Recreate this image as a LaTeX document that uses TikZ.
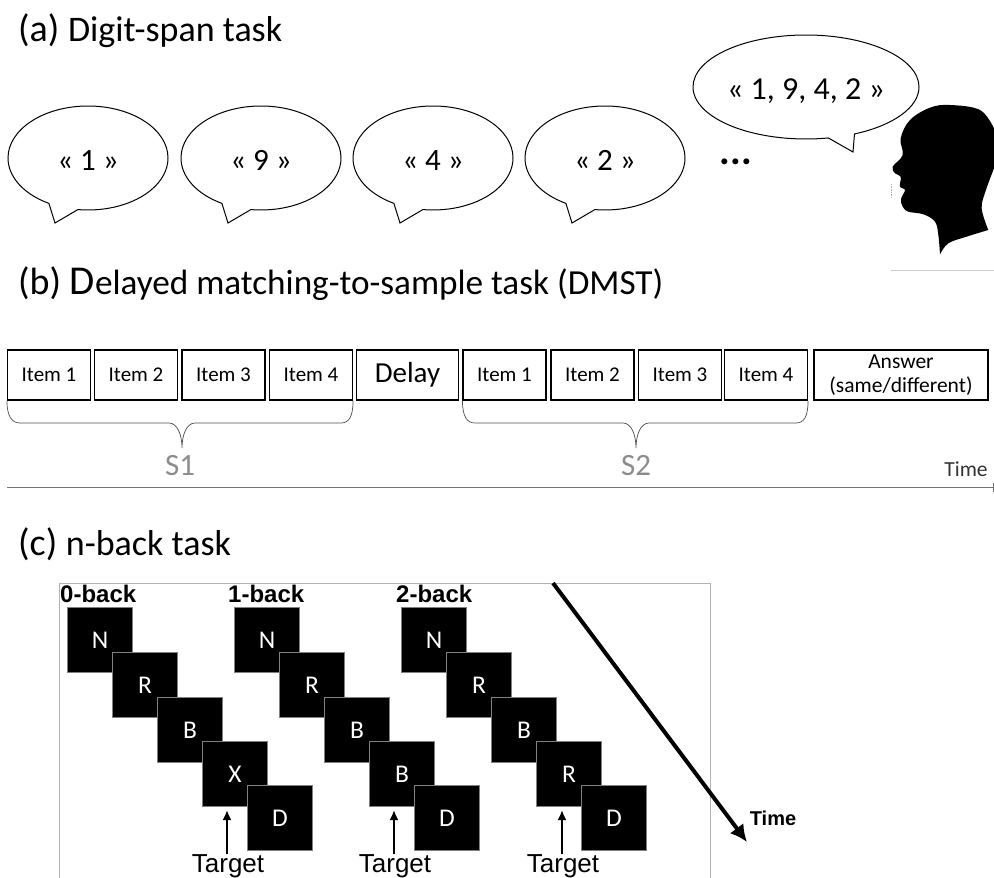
\documentclass[tikz,border=0pt]{standalone}
\usepackage{fontspec}
\setmainfont{Carlito}
\newfontfamily\arialfont{Liberation Sans}
\usetikzlibrary{arrows.meta,shapes.callouts}

\tikzset{
  bubble/.style={ellipse callout,draw,line width=1pt,fill=white,inner sep=0pt,minimum width=160pt,minimum height=104pt,callout pointer arc=22,text height=28pt,text depth=4pt,font=\fontsize{31}{31}\selectfont},
  itembox/.style={draw,line width=1.1pt,minimum width=83pt,minimum height=50pt,inner sep=0pt,font=\fontsize{21}{21}\selectfont},
  letterbox/.style={draw=black!50,line width=1pt,fill=black,text=white,minimum size=65pt,inner sep=0pt,font=\fontsize{25.5}{25.5}\selectfont},
  heading/.style={anchor=base west,inner sep=0pt},
  backlabel/.style={anchor=base west,inner sep=0pt,font=\arialfont\bfseries\fontsize{24}{24}\selectfont},
  targetlabel/.style={anchor=base,inner sep=0pt,font=\arialfont\fontsize{26}{26}\selectfont},
  spanline/.style={line width=.7pt,draw=black!70},
  spanlabel/.style={text=black!45,inner sep=0pt,font=\fontsize{31}{31}\selectfont},
  targetarrow/.style={-{Latex[length=10pt,width=9pt]},line width=2pt}
}

\begin{document}
\begin{tikzpicture}[x=1pt,y=-1pt]
\useasboundingbox (0,0) rectangle (994,878);

\node [heading] (titlea) at (18,41) {\fontsize{38}{38}\selectfont (a) \fontsize{36}{36}\selectfont Digit-span task};

\node [bubble,callout absolute pointer={(55,223)}] (say1) at (88,158) {« 1 »};
\node [bubble,callout absolute pointer={(228,223)}] (say9) at (261,158) {« 9 »};
\node [bubble,callout absolute pointer={(400,223)}] (say4) at (433,158) {« 4 »};
\node [bubble,callout absolute pointer={(572,223)}] (say2) at (605,158) {« 2 »};
\node [font=\bfseries\fontsize{40}{40}\selectfont,inner sep=0pt] (dots) at (736,162) {...};
\node [bubble,minimum width=226pt,callout absolute pointer={(853,152)},callout pointer arc=14,font=\fontsize{32}{32}\selectfont] (sayall) at (806,87) {« 1, 9, 4, 2 »};

\begin{scope}[shift={(880,95)},x=.3333pt,y=-.3333pt]
\fill plot [smooth,tension=.6] coordinates {(180,478) (175,420) (165,380) (130,358) (85,350) (68,335) (63,312) (75,285) (60,275) (62,245) (45,235) (38,215) (68,180) (62,130) (90,75) (150,38) (210,30) (300,45) (342,100)}
  -- plot [smooth,tension=.6] coordinates {(342,220) (318,285) (305,340) (325,405)}
  -- plot [smooth,tension=.6] coordinates {(325,405) (260,425) (205,445) (180,478)} -- cycle;
\end{scope}
\draw [black!20,line width=1pt] (891,270) -- (994,270);
\draw [black!30,line width=.6pt,densely dotted] (891,184) -- (891,197);

\node [heading] (titleb) at (18,294) {\fontsize{38}{38}\selectfont (b) \fontsize{41}{41}\selectfont D\fontsize{35.2}{35.2}\selectfont elayed matching-to-sample task (DMST)};

\node [itembox] (s1a) at (49,375) {Item 1};
\node [itembox] (s1b) at (136,375) {Item 2};
\node [itembox] (s1c) at (223.5,375) {Item 3};
\node [itembox] (s1d) at (311,375) {Item 4};
\node [itembox,minimum width=102pt,font=\fontsize{29}{29}\selectfont] (delay) at (407.5,375) {Delay};
\node [itembox] (s2a) at (504.5,375) {Item 1};
\node [itembox] (s2b) at (592.5,375) {Item 2};
\node [itembox] (s2c) at (680,375) {Item 3};
\node [itembox] (s2d) at (766,375) {Item 4};
\node [itembox,minimum width=174pt,align=center,font=\fontsize{21.5}{24}\selectfont] (answer) at (901,375) {Answer\\(same/different)};

\draw [spanline] (s1a.south west) .. controls +(0,16) and +(-8,0) .. (20,423) -- (169,423) .. controls +(8,0) and +(0,-14) .. (182,448) .. controls +(0,-14) and +(-8,0) .. (195,423) -- (341,423) .. controls +(8,0) and +(0,16) .. (s1d.south east);
\draw [spanline] (s2a.south west) .. controls +(0,16) and +(-8,0) .. (475,423) -- (623,423) .. controls +(8,0) and +(0,-14) .. (636,448) .. controls +(0,-14) and +(-8,0) .. (649,423) -- (796,423) .. controls +(8,0) and +(0,16) .. (s2d.south east);
\node [spanlabel] (s1) at (180,466) {S1};
\node [spanlabel] (s2) at (636,466) {S2};

\coordinate (timestart) at (7,487);
\coordinate (timeend) at (993,487);
\draw [black!55,line width=.8pt] (timestart) to (timeend);
\draw [black!55,line width=.8pt] (993,483) to (993,492);
\node [inner sep=0pt,font=\fontsize{21.5}{21.5}\selectfont,text=black!80] (timeb) at (966,469) {Time};

\node [heading] (titlec) at (18,555) {\fontsize{38}{38}\selectfont (c) \fontsize{36}{36}\selectfont n-back task};

\draw [black!30,line width=.8pt] (59,878) -- (59,583) -- (710,583) -- (710,878);

\node [backlabel] (zero) at (60,602) {0-back};
\node [backlabel] (one) at (228,602) {1-back};
\node [backlabel] (two) at (396,602) {2-back};

\node [letterbox] (n0) at (100,640) {N};
\node [letterbox] (r0) at (145,685) {R};
\node [letterbox] (b0) at (190,730) {B};
\node [letterbox] (x0) at (235,774) {X};
\node [letterbox] (d0) at (280,818) {D};

\node [letterbox] (n1) at (267,640) {N};
\node [letterbox] (r1) at (312,685) {R};
\node [letterbox] (b1) at (357,730) {B};
\node [letterbox] (x1) at (402,774) {B};
\node [letterbox] (d1) at (447,818) {D};

\node [letterbox] (n2) at (434,640) {N};
\node [letterbox] (r2) at (479,685) {R};
\node [letterbox] (b2) at (524,730) {B};
\node [letterbox] (x2) at (569,774) {R};
\node [letterbox] (d2) at (614,818) {D};

\node [targetlabel] (target0) at (228,872.5) {Target};
\node [targetlabel] (target1) at (395,872.5) {Target};
\node [targetlabel] (target2) at (563,872.5) {Target};

\draw [targetarrow] (target0.north) ++(-1,0) to (227,810);
\draw [targetarrow] (target1.north) ++(-1,0) to (394,810);
\draw [targetarrow] (target2.north) ++(-1,0) to (562,810);

\node [inner sep=0pt,font=\arialfont\bfseries\fontsize{20}{20}\selectfont] (timec) at (773,818) {Time};
\coordinate (arrowstart) at (553,583);
\draw [-{Latex[length=17pt,width=17pt]},line width=4pt] (arrowstart) to (747,842);
\end{tikzpicture}
\end{document}
